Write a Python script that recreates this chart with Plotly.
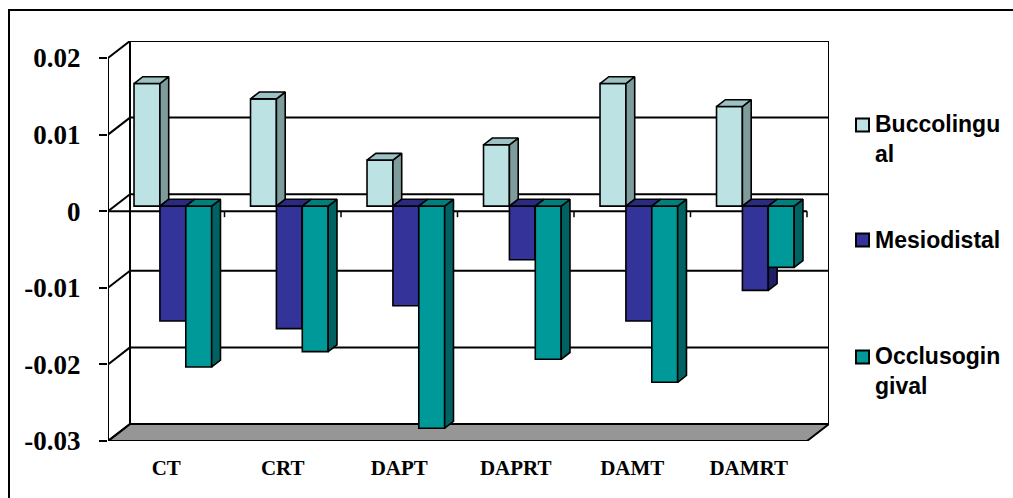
import plotly.graph_objects as go

# ---- data -------------------------------------------------------------
categories = ["CT", "CRT", "DAPT", "DAPRT", "DAMT", "DAMRT"]
series_names = ["Buccolingual", "Mesiodistal", "Occlusogingival"]
legend_labels = ["Buccolingu<br>al", "Mesiodistal", "Occlusogin<br>gival"]
buccolingual = [0.016, 0.014, 0.006, 0.008, 0.016, 0.013]
mesiodistal = [-0.015, -0.016, -0.013, -0.007, -0.015, -0.011]
occlusogingival = [-0.021, -0.019, -0.029, -0.020, -0.023, -0.008]
y_tick_vals = [0.02, 0.01, 0.0, -0.01, -0.02, -0.03]
y_tick_text = ["0.02", "0.01", "0", "-0.01", "-0.02", "-0.03"]

values = [buccolingual, mesiodistal, occlusogingival]

# ---- styling ----------------------------------------------------------
front_colors = ["#BDE2E3", "#333399", "#009999"]
side_colors = ["#7E9C9C", "#202068", "#006262"]
top_colors = ["#9DC2C3", "#2A2A80", "#007F7F"]

W, H = 1013, 498
ML, MR, MT, MB = 108, 184, 41, 57

Y_MIN, Y_MAX = -0.03, 0.02
N = len(categories)
DX = 22 / 116.5          # depth offset along the category axis
DY = 17 / 7660           # depth offset along the value axis
BAR_W = 1 / 4.5          # gap width 150%
F0, F1 = 0.3, 0.7        # front / back depth of the columns


def paper_x(px):
    return (px - ML) / (W - ML - MR)


def paper_y(py):
    return (H - MB - py) / (H - MT - MB)


fig = go.Figure()

# ---- columns: front face (bar) + right side + top ---------------------
for s, vals in enumerate(values):
    lefts = [i + 0.5 - 1.5 * BAR_W + s * BAR_W for i in range(N)]
    centers = [l + BAR_W / 2 + F0 * DX for l in lefts]
    fig.add_trace(go.Bar(
        x=centers, y=vals, base=F0 * DY, width=BAR_W,
        marker=dict(color=front_colors[s], line=dict(color="black", width=1.6)),
        name=series_names[s], showlegend=False, zorder=2 * s,
    ))
    for l, v in zip(lefts, vals):
        r = l + BAR_W
        # right side face
        fig.add_trace(go.Scatter(
            x=[r + F0 * DX, r + F1 * DX, r + F1 * DX, r + F0 * DX, r + F0 * DX],
            y=[F0 * DY, F1 * DY, v + F1 * DY, v + F0 * DY, F0 * DY],
            mode="lines", fill="toself", fillcolor=side_colors[s],
            line=dict(color="black", width=1.6), showlegend=False,
            hoverinfo="skip", zorder=2 * s + 1,
        ))
        # top face
        t = max(v, 0.0)
        fig.add_trace(go.Scatter(
            x=[l + F0 * DX, r + F0 * DX, r + F1 * DX, l + F1 * DX, l + F0 * DX],
            y=[t + F0 * DY, t + F0 * DY, t + F1 * DY, t + F1 * DY, t + F0 * DY],
            mode="lines", fill="toself", fillcolor=top_colors[s],
            line=dict(color="black", width=1.6), showlegend=False,
            hoverinfo="skip", zorder=2 * s + 1,
        ))

# ---- walls, floor and gridlines --------------------------------------
shapes = []
line_k = dict(color="black", width=2)

# floor
shapes.append(dict(
    type="path", xref="x", yref="y", layer="below",
    path=f"M0,{Y_MIN} L{N},{Y_MIN} L{N + DX},{Y_MIN + DY} L{DX},{Y_MIN + DY} Z",
    fillcolor="#969696", line=line_k,
))
# back wall gridlines and side-wall diagonals
for v in y_tick_vals:
    shapes.append(dict(type="line", xref="x", yref="y", layer="below",
                       x0=0, y0=v, x1=DX, y1=v + DY, line=line_k))
    if Y_MIN < v:
        shapes.append(dict(type="line", xref="x", yref="y", layer="below",
                           x0=DX, y0=v + DY, x1=N + DX, y1=v + DY, line=line_k))
# back wall edges
shapes.append(dict(type="line", xref="x", yref="y", layer="below",
                   x0=DX, y0=Y_MIN + DY, x1=DX, y1=Y_MAX + DY, line=line_k))
shapes.append(dict(type="line", xref="x", yref="y", layer="below",
                   x0=N + DX, y0=Y_MIN + DY, x1=N + DX, y1=Y_MAX + DY, line=line_k))
# front value axis
shapes.append(dict(type="line", xref="x", yref="y", layer="below",
                   x0=0, y0=Y_MIN, x1=0, y1=Y_MAX, line=line_k))
# front category axis at zero with boundary ticks
shapes.append(dict(type="line", xref="x", yref="y", layer="below",
                   x0=0, y0=0, x1=N, y1=0, line=line_k))
for i in range(1, N + 1):
    shapes.append(dict(type="line", xref="x", yref="y", layer="below",
                       ysizemode="pixel", yanchor=0, x0=i, x1=i, y0=0, y1=-6,
                       line=dict(color="black", width=1.5)))

# chart border
shapes.append(dict(type="rect", xref="paper", yref="paper", layer="below",
                   x0=paper_x(9), x1=paper_x(1030), y0=paper_y(10), y1=paper_y(520),
                   line=line_k, fillcolor="rgba(0,0,0,0)"))

# ---- legend -----------------------------------------------------------
annotations = []
legend_centers = [125, 240, 357]
legend_text_mid = [139, 240, 371]
for s in range(3):
    c = legend_centers[s]
    shapes.append(dict(type="rect", xref="paper", yref="paper",
                       x0=paper_x(856), x1=paper_x(869),
                       y0=paper_y(c + 6.5), y1=paper_y(c - 6.5),
                       fillcolor=front_colors[s], line=dict(color="black", width=2)))
    annotations.append(dict(
        xref="paper", yref="paper", x=paper_x(873), y=paper_y(legend_text_mid[s]),
        xanchor="left", yanchor="middle", align="left", showarrow=False,
        text=legend_labels[s],
        font=dict(family="Liberation Sans", size=23, color="black", weight="bold"),
    ))

fig.update_layout(
    width=W, height=H,
    margin=dict(l=ML, r=MR, t=MT, b=MB, pad=0),
    paper_bgcolor="white", plot_bgcolor="white",
    barmode="overlay", showlegend=False,
    shapes=shapes, annotations=annotations,
    xaxis=dict(
        range=[0, N + DX], showgrid=False, zeroline=False, showline=False,
        tickvals=[i + 0.5 for i in range(N)], ticktext=categories, ticks="",
        ticklabelstandoff=12,
        tickfont=dict(family="Liberation Serif", size=21, color="black", weight="bold"),
    ),
    yaxis=dict(
        range=[Y_MIN, Y_MAX + DY], showgrid=False, zeroline=False, showline=False,
        tickvals=y_tick_vals, ticktext=y_tick_text,
        ticks="outside", ticklen=8, tickwidth=2, tickcolor="black",
        ticklabelstandoff=13,
        tickfont=dict(family="Liberation Serif", size=27, color="black", weight="bold"),
    ),
)

fig.write_html("out.html")
